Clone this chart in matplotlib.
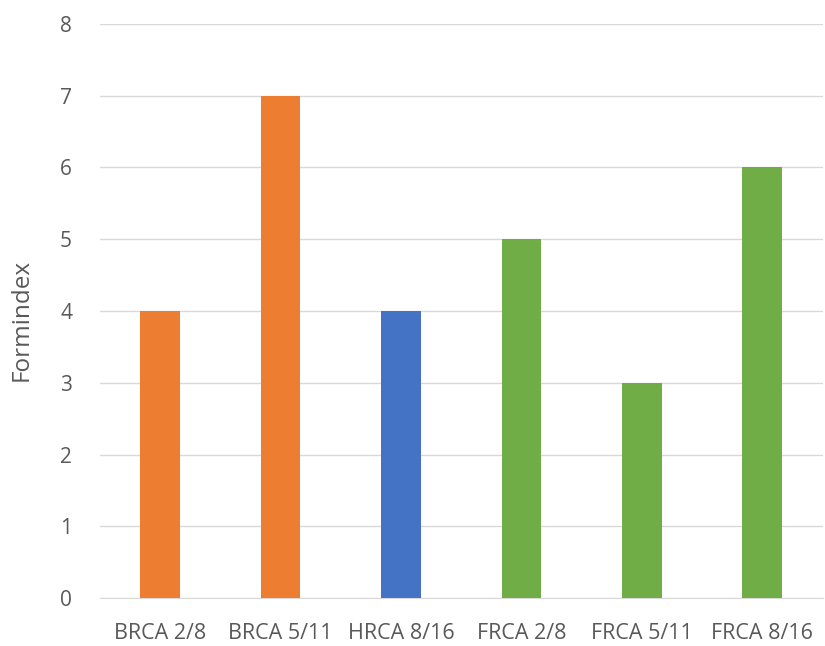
import matplotlib.pyplot as plt

# bar chart data
categories = ["BRCA 2/8", "BRCA 5/11", "HRCA 8/16", "FRCA 2/8", "FRCA 5/11", "FRCA 8/16"]
values = [4, 7, 4, 5, 3, 6]
colors = ["#ED7D31", "#ED7D31", "#4472C4", "#70AD47", "#70AD47", "#70AD47"]

plt.rcParams['font.family'] = ['Open Sans', 'DejaVu Sans']

fig = plt.figure(figsize=(8.25, 6.46), dpi=100)
ax = fig.add_axes([0.121, 0.074, 0.876, 0.889])

x = range(len(categories))
ax.bar(x, values, width=0.33, color=colors, zorder=3)

ax.set_xlim(-0.5, len(categories) - 0.5)
ax.set_ylim(0, 8)
ax.set_yticks(range(0, 9))
ax.set_xticks(list(x))
ax.set_xticklabels(categories)

ax.grid(axis='y', color='#D9D9D9', linewidth=1, zorder=0)
for side in ['top', 'right', 'left']:
    ax.spines[side].set_visible(False)
ax.spines['bottom'].set_color('#D9D9D9')

ax.tick_params(axis='both', length=0, colors='#595959')
ax.tick_params(axis='y', labelsize=15, pad=20)
ax.tick_params(axis='x', labelsize=15.5, pad=18)

ax.set_ylabel("Formindex", fontsize=17.5, color='#595959')
ax.yaxis.set_label_coords(-0.092, 0.485)

fig.savefig("out.png", dpi=100)
